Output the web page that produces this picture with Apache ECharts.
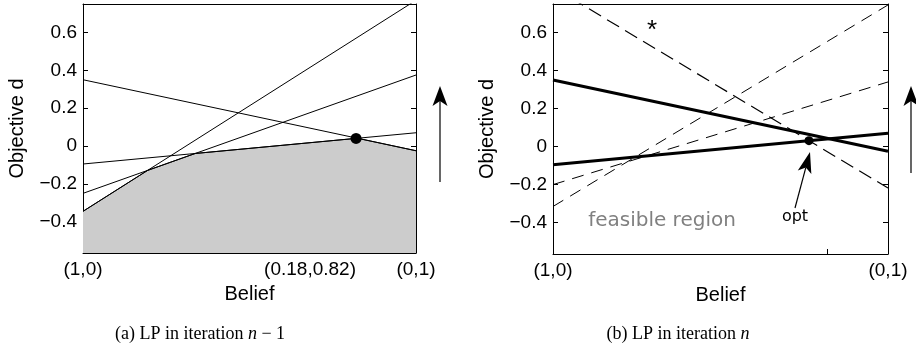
<!DOCTYPE html>
<html>
<head>
<meta charset="utf-8">
<script src="https://cdn.jsdelivr.net/npm/echarts@6/dist/echarts.min.js"></script>
<style>
  html, body { margin: 0; padding: 0; background: #fff; }
  #chart { width: 916px; height: 353px; }
</style>
</head>
<body>
<div id="chart"></div>
<script>
// Belief axis runs from (1,0) at x = 0 to (0,1) at x = 1.
// Each constraint line is given by its value at the two ends [x=0, x=1].
const lineA = [0.35, -0.025];
const lineB = [-0.095, 0.07];
const lineC = [-0.25, 0.375];
const lineD = [-0.345, 0.77];

// Constraints of the second LP
const dashShallow = [-0.2, 0.34];
const dashSteep = [-0.315, 0.745];
const dashNew = [0.838, -0.218];   // the newly added constraint, marked with *

const leftLines = [lineA, lineB, lineC, lineD];
const rightSolid = [lineA, lineB];
const rightDashed = [dashShallow, dashSteep, dashNew];

const optBelief = 0.82;
const xTickVals = [0, 0.82, 1];
const xTickLabels = ['(1,0)', '(0.18,0.82)', '(0,1)'];
const xTickValsB = [0, 1];
const xTickLabelsB = ['(1,0)', '(0,1)'];
const yTicks = [-0.4, -0.2, 0, 0.2, 0.4, 0.6];
const yMin = -0.565, yMax = 0.75;

const valAt = (l, x) => l[0] + (l[1] - l[0]) * x;
const crossX = (p, q) => {
  const den = (p[1] - p[0]) - (q[1] - q[0]);
  return den === 0 ? null : (q[0] - p[0]) / den;
};

// Lower envelope of a set of lines: breakpoints only occur at pairwise crossings.
function envelope(lines) {
  const xs = [0, 1];
  for (let i = 0; i < lines.length; i++)
    for (let j = i + 1; j < lines.length; j++) {
      const x = crossX(lines[i], lines[j]);
      if (x !== null && x > 0 && x < 1) xs.push(x);
    }
  xs.sort((a, b) => a - b);
  return xs.map(x => [x, Math.min(...lines.map(l => valAt(l, x)))]);
}

const fmtY = v => v === 0 ? '0' : (v < 0 ? '\u2212' : '') + Math.abs(v).toFixed(1);
const FONT = 'Liberation Sans';

function xAxes(gridIndex, vals, labels) {
  return [{
    type: 'value', gridIndex, min: 0, max: 1, position: 'bottom',
    axisLine: { show: true, onZero: false, lineStyle: { color: '#000', width: 1 } },
    axisTick: { show: true, inside: true, length: 5, customValues: [optBelief], lineStyle: { color: '#000' } },
    axisLabel: {
      show: true, customValues: vals, margin: 7, hideOverlap: false,
      showMinLabel: true, showMaxLabel: true,
      formatter: v => {
        const i = vals.findIndex(t => Math.abs(t - v) < 1e-9);
        if (i < 0) return '';
        // interior label ends at its tick
        return (v > 0 && v < 1) ? '{r|' + labels[i] + '}' : labels[i];
      },
      rich: { r: { padding: [0, 92, 0, 0], fontFamily: FONT, fontSize: 19, color: '#000' } },
      color: '#000', fontFamily: FONT, fontSize: 19
    },
    splitLine: { show: false },
    name: 'Belief', nameLocation: 'middle', nameGap: 31,
    nameTextStyle: { color: '#000', fontFamily: FONT, fontSize: 20 }
  }, {
    type: 'value', gridIndex, min: 0, max: 1, position: 'top',
    axisLine: { show: true, onZero: false, lineStyle: { color: '#000', width: 1 } },
    axisTick: { show: false }, axisLabel: { show: false }, splitLine: { show: false }
  }];
}

function yAxes(gridIndex) {
  return [{
    type: 'value', gridIndex, min: yMin, max: yMax, position: 'left',
    axisLine: { show: true, onZero: false, lineStyle: { color: '#000', width: 1 } },
    axisTick: { show: true, inside: true, length: 5, customValues: yTicks, lineStyle: { color: '#000' } },
    axisLabel: {
      show: true, customValues: yTicks, formatter: fmtY, margin: 6,
      color: '#000', fontFamily: FONT, fontSize: 19
    },
    splitLine: { show: false },
    name: 'Objective d', nameLocation: 'middle', nameGap: 56, nameRotate: 90,
    nameTextStyle: { color: '#000', fontFamily: FONT, fontSize: 20 }
  }, {
    type: 'value', gridIndex, min: yMin, max: yMax, position: 'right',
    axisLine: { show: true, onZero: false, lineStyle: { color: '#000', width: 1 } },
    axisTick: { show: true, inside: true, length: 5, customValues: yTicks, lineStyle: { color: '#000' } },
    axisLabel: { show: false }, splitLine: { show: false }
  }];
}

const endpoints = l => [[0, l[0]], [1, l[1]]];

const series = [];
// (a) feasible region under the lower envelope
series.push({
  type: 'line', xAxisIndex: 0, yAxisIndex: 0, data: envelope(leftLines),
  showSymbol: false, silent: true, z: 1,
  lineStyle: { width: 1, color: '#000' },
  areaStyle: { color: '#cccccc', origin: 'start', opacity: 1 }
});
leftLines.forEach(l => series.push({
  type: 'line', xAxisIndex: 0, yAxisIndex: 0, data: endpoints(l),
  showSymbol: false, z: 2, lineStyle: { width: 1, color: '#000' }
}));
series.push({
  type: 'scatter', xAxisIndex: 0, yAxisIndex: 0, z: 5,
  data: [[optBelief, Math.min(...leftLines.map(l => valAt(l, optBelief)))]],
  symbolSize: 11, itemStyle: { color: '#000', opacity: 1 }
});

// (b) old constraints solid, candidate constraints dashed
rightSolid.forEach(l => series.push({
  type: 'line', xAxisIndex: 2, yAxisIndex: 2, data: endpoints(l),
  showSymbol: false, z: 3, lineStyle: { width: 3, color: '#000' }
}));
rightDashed.forEach((l, i) => series.push({
  type: 'line', xAxisIndex: 2, yAxisIndex: 2, data: endpoints(l),
  showSymbol: false, z: 2,
  lineStyle: { width: i === 2 ? 1.2 : 1, color: '#000', type: i === 2 ? [14, 7] : [12, 8] }
}));
const optX2 = crossX(lineB, dashNew);
series.push({
  type: 'scatter', xAxisIndex: 2, yAxisIndex: 2, z: 5,
  data: [[optX2, valAt(lineB, optX2)]],
  symbolSize: 9, itemStyle: { color: '#000', opacity: 1 }
});

// Arrow annotation: shaft plus notched head
function arrow(x1, y1, x2, y2, len, half, notch) {
  const dx = x2 - x1, dy = y2 - y1, d = Math.hypot(dx, dy);
  const ux = dx / d, uy = dy / d, px = -uy, py = ux;
  const bx = x2 - ux * len, by = y2 - uy * len;
  const nx = x2 - ux * (len - notch), ny = y2 - uy * (len - notch);
  return [
    { type: 'line', shape: { x1, y1, x2: nx, y2: ny }, style: { stroke: '#000', lineWidth: 1.2 } },
    { type: 'polygon', shape: { points: [[x2, y2], [bx + px * half, by + py * half], [nx, ny], [bx - px * half, by - py * half]] },
      style: { fill: '#000' } }
  ];
}

const graphic = [
  ...arrow(440, 182, 440, 86, 20, 7.5, 5),
  ...arrow(911, 173, 911, 86, 20, 7.5, 5),
  ...arrow(795, 208, 810, 152, 21, 7, 5),
  { type: 'text', x: 264, y: 202, style: { text: 'feasible region', fill: '#666', font: '18px "DejaVu Sans"', align: 'center', verticalAlign: 'middle' } },
  { type: 'text', x: 662, y: 221, style: { text: 'feasible region', fill: '#808080', font: '20px "DejaVu Sans"', align: 'center', verticalAlign: 'middle' } },
  { type: 'text', x: 795, y: 217, style: { text: 'opt', fill: '#000', font: '16px "DejaVu Sans"', align: 'center', verticalAlign: 'middle' } },
  { type: 'text', x: 652, y: 31, style: { text: '*', fill: '#000', font: '26px "Liberation Sans"', align: 'center', verticalAlign: 'middle' } },
  { type: 'text', x: 200, y: 334, style: {
      text: '(a) LP in iteration {i|n} \u2212 1', fill: '#000', align: 'center', verticalAlign: 'middle',
      font: '18px "Liberation Serif"',
      rich: { i: { fontStyle: 'italic', fontFamily: 'Liberation Serif', fontSize: 18 } } } },
  { type: 'text', x: 678, y: 334, style: {
      text: '(b) LP in iteration {i|n}', fill: '#000', align: 'center', verticalAlign: 'middle',
      font: '18px "Liberation Serif"',
      rich: { i: { fontStyle: 'italic', fontFamily: 'Liberation Serif', fontSize: 18 } } } }
];

const chart = echarts.init(document.getElementById('chart'), null, { renderer: 'canvas' });
chart.setOption({
  animation: false,
  backgroundColor: '#fff',
  grid: [
    { left: 83, top: 4, width: 333, height: 249, containLabel: false },
    { left: 553, top: 4, width: 335, height: 250, containLabel: false }
  ],
  xAxis: [...xAxes(0, xTickVals, xTickLabels), ...xAxes(1, xTickValsB, xTickLabelsB)],
  yAxis: [...yAxes(0), ...yAxes(1)],
  series,
  graphic
});
</script>
</body>
</html>
